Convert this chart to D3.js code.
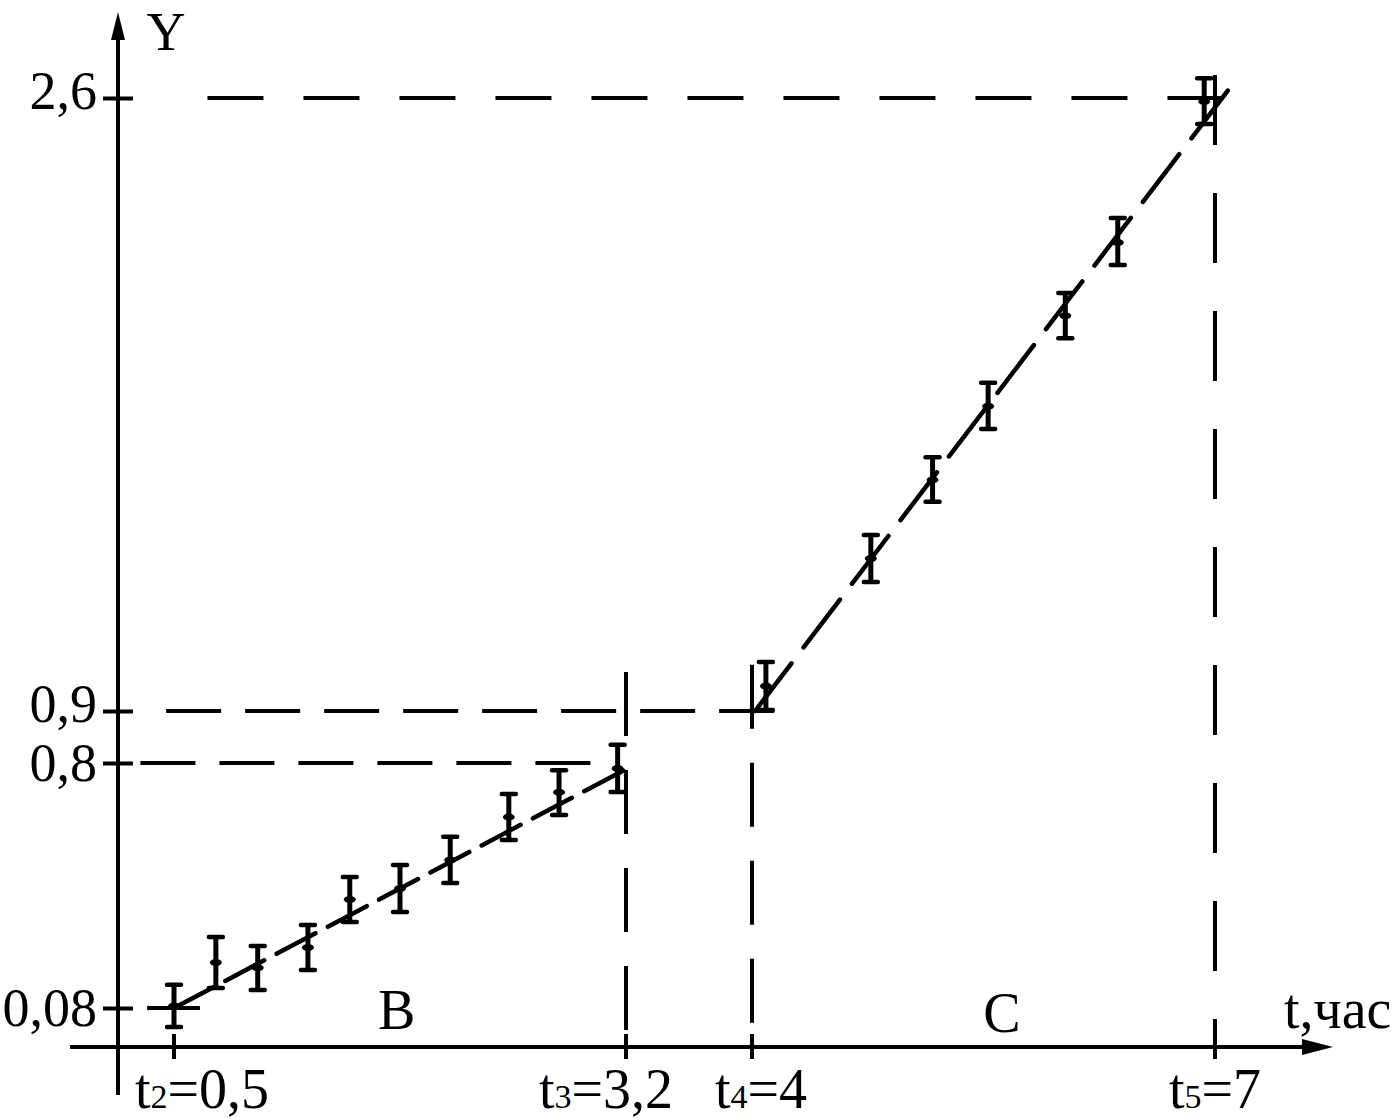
<!DOCTYPE html>
<html>
<head>
<meta charset="utf-8">
<script src="https://cdn.jsdelivr.net/npm/d3@7"></script>
<style>
  body { margin: 0; background: #fff; }
  text { font-family: "Liberation Serif", "Times New Roman", serif; fill: #000; }
</style>
</head>
<body>
<div id="chart-area"></div>
<script>
const WIDTH = 1395;
const HEIGHT = 1120;
const INK = '#000';

// stage B: measured points with error bar limits
const tB = [0.5, 0.75, 1.0, 1.3, 1.55, 1.85, 2.15, 2.5, 2.8, 3.15];
const yB = [0.086, 0.214, 0.198, 0.258, 0.399, 0.431, 0.515, 0.641, 0.714, 0.784];
const loB = [0.041, 0.139, 0.133, 0.192, 0.333, 0.362, 0.447, 0.574, 0.647, 0.715];
const hiB = [0.148, 0.289, 0.262, 0.324, 0.465, 0.500, 0.583, 0.709, 0.779, 0.835];

// stage C
const tC = [4.09, 4.77, 5.17, 5.53, 6.03, 6.37, 6.93];
const yC = [0.969, 1.323, 1.541, 1.745, 1.996, 2.199, 2.59];
const loC = [0.903, 1.258, 1.48, 1.682, 1.934, 2.137, 2.528];
const hiC = [1.036, 1.388, 1.604, 1.81, 2.059, 2.267, 2.655];

// fitted (dashed) lines, start and end
const fitBT = [0.5, 3.2];
const fitBY = [0.08, 0.782];
const fitCT = [4.02, 7.16];
const fitCY = [0.9, 2.664];

// axis ticks
const yTicks = [0.08, 0.8, 0.9, 2.6];
const xTicks = [0.5, 3.2, 4, 7];
const xTickSub = ["2", "3", "4", "5"];
const xTickVal = ["0,5", "3,2", "4", "7"];

// guide lines
const hLevels = [2.6, 0.9, 0.8, 0.08];
const hFrom = [0.7, 0.43, 0.2, 0.26];
const hTo = [7.065, 4.18, 3.08, 0.655];
const vAt = [3.2, 4, 7];
const vTop = [1.008, 1.028, 2.664];

// stage labels
const stageNames = ["B", "C"];
const stageT = [1.83, 5.62];

function render() {
    const svg = d3.select("#chart-area").append("svg")
        .attr("width", WIDTH)
        .attr("height", HEIGHT);

    // schematic (piecewise) axes as in the original drawing
    const x = d3.scaleLinear()
        .domain([0, 0.5, 3.2, 4, 7])
        .range([118, 174, 626, 752, 1215]);
    const y = d3.scaleLinear()
        .domain([0, 0.08, 0.8, 0.9, 2.6])
        .range([1047, 1008, 763, 711, 98]);

    const x0 = x(0), y0 = y(0);

    // guide lines
    svg.selectAll(".hguide")
        .data(hLevels)
        .enter()
        .append("line")
        .attr("class", "hguide")
        .attr("x1", (d, i) => x(hFrom[i]))
        .attr("x2", (d, i) => x(hTo[i]))
        .attr("y1", d => y(d))
        .attr("y2", d => y(d))
        .attr("stroke", INK)
        .attr("stroke-width", 4)
        .attr("stroke-dasharray", d => d === 2.6 ? "56,40" : "55,24");

    svg.selectAll(".vguide")
        .data(vAt)
        .enter()
        .append("line")
        .attr("class", "vguide")
        .attr("x1", d => x(d))
        .attr("x2", d => x(d))
        .attr("y1", (d, i) => y(vTop[i]))
        .attr("y2", y0 + 8)
        .attr("stroke", INK)
        .attr("stroke-width", 4)
        .attr("stroke-dasharray", (d, i) => i === 2 ? "70,48" : "64,34");

    // axes
    svg.append("line")
        .attr("x1", x0).attr("x2", x0)
        .attr("y1", 1095).attr("y2", 30)
        .attr("stroke", INK).attr("stroke-width", 4);
    svg.append("path")
        .attr("d", `M${x0},12 L${x0 - 7},40 L${x0 + 7},40 Z`)
        .attr("fill", INK);

    svg.append("line")
        .attr("x1", 70).attr("x2", 1315)
        .attr("y1", y0).attr("y2", y0)
        .attr("stroke", INK).attr("stroke-width", 4);
    svg.append("path")
        .attr("d", `M1333,${y0} L1302,${y0 - 8} L1302,${y0 + 8} Z`)
        .attr("fill", INK);

    const yAxis = svg.append("g")
        .attr("transform", `translate(${x0 + 15},0)`)
        .call(d3.axisLeft(y)
            .tickValues(yTicks)
            .tickSize(30)
            .tickPadding(6)
            .tickFormat(d => String(d).replace(".", ",")));
    yAxis.select(".domain").remove();
    yAxis.selectAll(".tick line").attr("stroke", INK).attr("stroke-width", 4);
    yAxis.selectAll(".tick text")
        .attr("font-family", '"Liberation Serif", serif')
        .attr("font-size", 54)
        .attr("fill", INK)
        .attr("dy", d => (d === 0.9 || d === 2.6) ? "0.2em" : "0.33em");

    svg.selectAll(".xtick")
        .data(xTicks)
        .enter()
        .append("line")
        .attr("class", "xtick")
        .attr("x1", d => x(d)).attr("x2", d => x(d))
        .attr("y1", y0 - 13).attr("y2", y0 + 12)
        .attr("stroke", INK).attr("stroke-width", 4);

    const labelNudge = [28, -20, 9, 0];
    const xl = svg.selectAll(".xlabel")
        .data(xTicks)
        .enter()
        .append("text")
        .attr("class", "xlabel")
        .attr("x", (d, i) => x(d) + labelNudge[i])
        .attr("y", y0 + 61)
        .attr("text-anchor", "middle")
        .attr("font-size", 56);
    xl.append("tspan").text("t");
    xl.append("tspan").attr("font-size", 34).text((d, i) => xTickSub[i]);
    xl.append("tspan").text((d, i) => "=" + xTickVal[i]);

    svg.append("text")
        .attr("x", 166).attr("y", 50)
        .attr("text-anchor", "middle")
        .attr("font-size", 54)
        .text("Y");
    svg.append("text")
        .attr("x", 1284).attr("y", 1028)
        .attr("font-size", 56)
        .text("t,час");

    svg.selectAll(".stage")
        .data(stageNames)
        .enter()
        .append("text")
        .attr("class", "stage")
        .attr("x", (d, i) => x(stageT[i]))
        .attr("y", (d, i) => y0 - 18 + i * 3)
        .attr("text-anchor", "middle")
        .attr("font-size", 56)
        .text(d => d);

    // fitted dashed lines
    const line = d3.line().x(d => x(d[0])).y(d => y(d[1]));
    svg.append("path")
        .datum(d3.zip(fitBT, fitBY))
        .attr("d", line)
        .attr("fill", "none")
        .attr("stroke", INK)
        .attr("stroke-width", 4.5)
        .attr("stroke-linecap", "round")
        .attr("stroke-dasharray", "44,14");
    svg.append("path")
        .datum(d3.zip(fitCT, fitCY))
        .attr("d", line)
        .attr("fill", "none")
        .attr("stroke", INK)
        .attr("stroke-width", 4.5)
        .attr("stroke-linecap", "round")
        .attr("stroke-dasharray", "60,20");

    // error bars
    const pts = d3.zip(tB, yB, loB, hiB).concat(d3.zip(tC, yC, loC, hiC));
    const bars = svg.selectAll(".err")
        .data(pts)
        .enter()
        .append("g")
        .attr("class", "err");
    bars.append("line")
        .attr("x1", d => x(d[0])).attr("x2", d => x(d[0]))
        .attr("y1", d => y(d[2])).attr("y2", d => y(d[3]))
        .attr("stroke", INK).attr("stroke-width", 5);
    bars.append("line")
        .attr("x1", d => x(d[0]) - 7).attr("x2", d => x(d[0]) + 7)
        .attr("y1", d => y(d[3])).attr("y2", d => y(d[3]))
        .attr("stroke", INK).attr("stroke-width", 4.5)
        .attr("stroke-linecap", "round");
    bars.append("line")
        .attr("x1", d => x(d[0]) - 7).attr("x2", d => x(d[0]) + 7)
        .attr("y1", d => y(d[2])).attr("y2", d => y(d[2]))
        .attr("stroke", INK).attr("stroke-width", 4.5)
        .attr("stroke-linecap", "round");
    bars.append("ellipse")
        .attr("cx", d => x(d[0]))
        .attr("cy", d => y(d[1]))
        .attr("rx", 6).attr("ry", 3.5)
        .attr("fill", INK);
}

render();
</script>
</body>
</html>
